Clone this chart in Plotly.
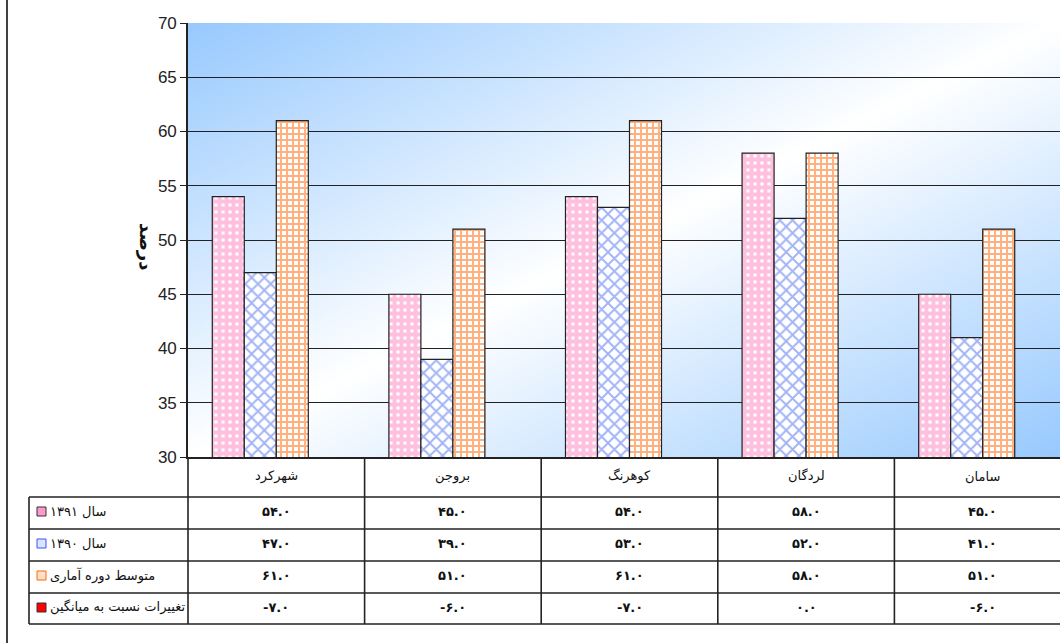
import base64
import plotly.graph_objects as go

# ---- data -------------------------------------------------------------
categories = ["شهرکرد", "بروجن", "کوهرنگ", "لردگان", "سامان"]
series_names = ["سال ۱۳۹۱", "سال ۱۳۹۰", "متوسط دوره آماری", "تغییرات نسبت به میانگین"]
year_1391 = [54, 45, 54, 58, 45]
year_1390 = [47, 39, 53, 52, 41]
period_mean = [61, 51, 61, 58, 51]
change_vs_mean = [-7, -6, -7, 0, -6]
y_ticks = [30, 35, 40, 45, 50, 55, 60, 65, 70]
y_title = "درصد"

series_values = [year_1391, year_1390, period_mean, change_vs_mean]

# ---- geometry (pixels) --------------------------------------------------
W, H = 1060, 643
ML, MT, MB, MR = 188, 23, 186, 0
PW = W - ML - MR
PH = H - MT - MB
CAT_W = 176.6  # pixel width of one category slot


def px(x):
    return (x - ML) / PW


def py(y):
    return (H - MB - y) / PH


def fa_num(v):
    s = f"{v:.1f}"
    table = str.maketrans("0123456789", "۰۱۲۳۴۵۶۷۸۹")
    return s.translate(table)


def rtl(s):
    return "\u202B" + s + "\u202C"


styles = [
    dict(color="#FF80C0", pattern=dict(shape="+", fgcolor="#FF80C0", bgcolor="#FFFFFF",
                                      size=7, solidity=0.8)),
    dict(color="#4468F0", pattern=dict(shape="x", fgcolor="#4468F0", bgcolor="#FFFFFF",
                                      size=9, solidity=0.38)),
    dict(color="#FF6200", pattern=dict(shape="+", fgcolor="#FF6200", bgcolor="#FFFFFF",
                                      size=6, solidity=0.55)),
    dict(color="#FF0000", pattern=None),
]

fig = go.Figure()
for name, vals, st in zip(series_names, series_values, styles):
    marker = dict(color=st["color"], line=dict(color="#222222", width=1.2))
    if st["pattern"]:
        marker["pattern"] = st["pattern"]
    fig.add_trace(go.Bar(x=list(range(len(categories))), y=vals, name=name,
                         marker=marker, showlegend=False))

# diagonal gradient background of the plot area
svg = ('<svg xmlns="http://www.w3.org/2000/svg" width="200" height="100" '
       'viewBox="0 0 200 100" preserveAspectRatio="none"><defs>'
       '<linearGradient id="g" x1="0" y1="0" x2="1" y2="1">'
       '<stop offset="0" stop-color="#97C9FE"/>'
       '<stop offset="0.5" stop-color="#FFFFFF"/>'
       '<stop offset="1" stop-color="#97C9FE"/>'
       '</linearGradient></defs>'
       '<rect width="200" height="100" fill="url(#g)"/></svg>')
bg_src = "data:image/svg+xml;base64," + base64.b64encode(svg.encode()).decode()

shapes = []
line = dict(color="#222222", width=1.6)


def hline(y, x0, x1):
    shapes.append(dict(type="line", xref="paper", yref="paper",
                       x0=px(x0), x1=px(x1), y0=py(y), y1=py(y), line=line))


def vline(x, y0, y1):
    shapes.append(dict(type="line", xref="paper", yref="paper",
                       x0=px(x), x1=px(x), y0=py(y0), y1=py(y1), line=line))


# data table grid
TABLE_LEFT = 29
HEADER_BOTTOM = 497
row_lines = [497, 529, 561, 593, 624]
for y in row_lines:
    hline(y, TABLE_LEFT, W + 10)
vline(TABLE_LEFT, HEADER_BOTTOM, row_lines[-1])
col_edges = [ML + i * CAT_W for i in range(len(categories) + 1)]
for x in col_edges:
    if x < W:
        vline(x, H - MB, row_lines[-1])
# outer border of the chart frame
shapes.append(dict(type="line", xref="paper", yref="paper",
                   x0=px(7), x1=px(7), y0=py(0), y1=py(H),
                   line=dict(color="#111111", width=1.6)))

annotations = []
tfont = dict(family="DejaVu Sans, Tahoma, sans-serif", size=13, color="#111111")

# header with category names
for i, c in enumerate(categories):
    xc = ML + (i + 0.5) * CAT_W
    annotations.append(dict(x=px(xc), y=py(476), xref="paper", yref="paper",
                            text=c, showarrow=False, font=tfont,
                            xanchor="center", yanchor="middle"))

row_centers = [511, 543, 575, 607]
icon_fill = ["#FF99CC", "#DDE4FF", "#FFE0C8", "#FF0000"]
icon_line = ["#333333", "#3355FF", "#FF6600", "#333333"]
for r, (name, vals) in enumerate(zip(series_names, series_values)):
    yc = row_centers[r]
    annotations.append(dict(x=px(48), y=py(yc), xref="paper", yref="paper",
                            text=rtl(name), showarrow=False, font=tfont,
                            xanchor="left", yanchor="middle"))
    shapes.append(dict(type="rect", xref="paper", yref="paper",
                       x0=px(37), x1=px(46), y0=py(yc + 5), y1=py(yc - 4),
                       fillcolor=icon_fill[r], line=dict(color=icon_line[r], width=1)))
    for i, v in enumerate(vals):
        xc = ML + (i + 0.5) * CAT_W
        annotations.append(dict(x=px(xc), y=py(yc), xref="paper", yref="paper",
                                text=f"<b>{fa_num(v)}</b>", showarrow=False, font=tfont,
                                xanchor="center", yanchor="middle"))

# axis title
annotations.append(dict(x=px(147), y=py(246), xref="paper", yref="paper",
                        text=f"<b>{y_title}</b>", showarrow=False, textangle=90,
                        font=dict(family="DejaVu Sans, Tahoma, sans-serif", size=18,
                                  color="#111111"),
                        xanchor="center", yanchor="middle"))

fig.update_layout(
    width=W, height=H,
    margin=dict(l=ML, r=MR, t=MT, b=MB, pad=0),
    paper_bgcolor="#FFFFFF",
    plot_bgcolor="rgba(0,0,0,0)",
    barmode="group",
    bargap=0.275,
    bargroupgap=0,
    images=[dict(source=bg_src, xref="paper", yref="paper", x=0, y=1,
                 sizex=1, sizey=1, sizing="stretch", layer="below",
                 xanchor="left", yanchor="top")],
    shapes=shapes,
    annotations=annotations,
    xaxis=dict(range=[-0.5, -0.5 + PW / CAT_W], showticklabels=False,
               showgrid=False, zeroline=False, ticks="",
               showline=True, linecolor="#222222", linewidth=1.6),
    yaxis=dict(range=[30, 70], tickvals=y_ticks, ticks="outside", ticklen=6,
               tickcolor="#222222", tickwidth=1.3,
               showgrid=True, gridcolor="#222222", gridwidth=1.3,
               zeroline=False, showline=True, linecolor="#222222", linewidth=1.6,
               tickfont=dict(family="Liberation Sans, Arial, sans-serif", size=17,
                             color="#222222")),
)

fig.write_html("out.html")
